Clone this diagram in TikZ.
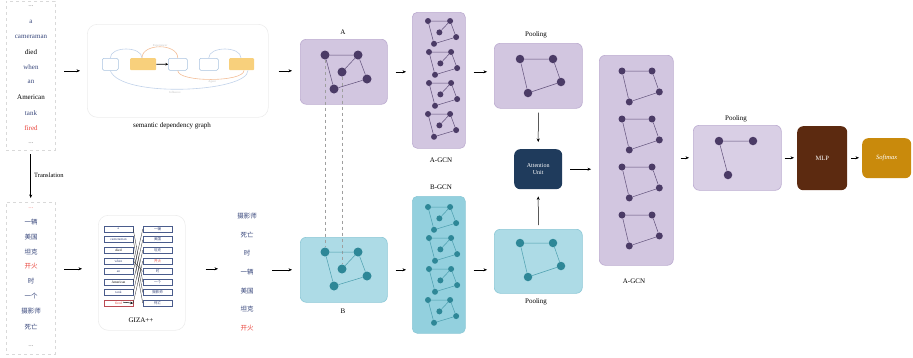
\documentclass[tikz,border=0pt]{standalone}
\usepackage{fontspec}
\setmainfont{Liberation Serif}
\newfontfamily\cjk{Noto Sans CJK SC}
\usetikzlibrary{arrows.meta,calc}
\pgfdeclarelayer{bg}\pgfdeclarelayer{mid}
\pgfsetlayers{bg,mid,main}
\definecolor{pfill}{HTML}{D2C6E0}
\definecolor{pdraw}{HTML}{BCACD0}
\definecolor{pnode}{HTML}{4B3B66}
\definecolor{pedge}{HTML}{5E4E78}
\definecolor{tfill}{HTML}{ADDBE6}
\definecolor{tdraw}{HTML}{8CC8D6}
\definecolor{tfilldark}{HTML}{93D0DE}
\definecolor{tnode}{HTML}{2E8797}
\definecolor{tedge}{HTML}{4A9DAD}
\definecolor{attnavy}{HTML}{1F3B5C}
\definecolor{mlpbrown}{HTML}{5C2A10}
\definecolor{smgold}{HTML}{C98A0C}
\definecolor{wordblue}{HTML}{36457A}
\definecolor{wordred}{HTML}{E8433A}
\definecolor{arcblue}{HTML}{C2D3EA}
\definecolor{arcorange}{HTML}{F3BE98}
\definecolor{sboxorange}{HTML}{F8D07C}
\definecolor{sboxborder}{HTML}{A9C3E0}
\definecolor{gizaborder}{HTML}{4A5C8C}
\tikzset{
 arr/.style={-{Stealth[length=3.5pt,width=3pt]}, line width=0.5pt, black},
 colbox/.style={draw=gray!30, dashed, line width=0.4pt},
 softbox/.style={draw=gray!15, line width=0.6pt, rounded corners=10pt},
 pbox/.style={draw=pdraw, fill=pfill, rounded corners=6pt, line width=0.6pt},
 tbox/.style={draw=tdraw, fill=tfill, rounded corners=6pt, line width=0.6pt},
 lbl/.style={font=\fontsize{7}{8}\selectfont, inner sep=0pt},
 word/.style={font=\fontsize{7}{8}\selectfont, inner sep=0pt},
 zword/.style={font=\cjk\fontsize{6.5}{7}\selectfont, inner sep=0pt, text=wordblue},
 pdot/.style={circle, fill=pnode, inner sep=0pt, minimum size=#1},
 tdot/.style={circle, fill=tnode, inner sep=0pt, minimum size=#1},
 pline/.style={draw=pedge, line width=0.5pt},
 tline/.style={draw=tedge, line width=0.5pt},
 gl/.style={draw=gizaborder, line width=0.4pt, minimum width=29pt, minimum height=6pt, inner sep=0pt, font=\fontsize{3.5}{4}\selectfont, fill=white},
 gr/.style={gl, font=\cjk\fontsize{3.5}{4}\selectfont},
 alignln/.style={draw=black!80, line width=0.35pt},
 sbox/.style={draw=sboxborder, fill=white, rounded corners=1.5pt, line width=0.5pt, minimum height=12pt, inner sep=0pt},
 sobox/.style={fill=sboxorange, rounded corners=1pt, minimum height=12pt, inner sep=0pt},
 tinylbl/.style={font=\fontsize{3}{3}\selectfont, text=gray!50, inner sep=0pt},
}
\newcommand{\gfive}[6]{%
\begin{scope}[shift={(#2,#3)},scale=#4]
\node[#5] (#1a) at (0,0) {};
\node[#5] (#1b) at (33,0) {};
\node[#5] (#1c) at (17,17) {};
\node[#5] (#1d) at (42,24) {};
\node[#5] (#1e) at (9,34) {};
\draw[#6] (#1a) -- (#1b) -- (#1d) -- (#1e) -- (#1a) (#1c) -- (#1b);
\end{scope}}
\newcommand{\gfour}[6]{%
\begin{scope}[shift={(#2,#3)},scale=#4]
\node[#5] (#1a) at (0,0) {};
\node[#5] (#1b) at (33,0) {};
\node[#5] (#1d) at (41,23) {};
\node[#5] (#1e) at (8,34) {};
\draw[#6] (#1a) -- (#1b) -- (#1d) -- (#1e) -- (#1a);
\end{scope}}
\begin{document}
\begin{tikzpicture}[x=1pt,y=-1pt]
\useasboundingbox (0,0) rectangle (913,357);

% ---------- boxes on background layer ----------
\begin{pgfonlayer}{bg}
\node[colbox, minimum width=49pt, minimum height=149pt, anchor=north west] (topcol) at (6,1) {};
\node[colbox, minimum width=49pt, minimum height=152pt, anchor=north west] (botcol) at (6,202) {};
\node[softbox, minimum width=181pt, minimum height=93pt, anchor=north west] (sdg) at (87,24) {};
\node[softbox, minimum width=87pt, minimum height=115pt, anchor=north west] (giza) at (98,215) {};
\node[minimum width=30pt, minimum height=128pt, anchor=north west, inner sep=0pt] (zhl) at (232,208) {};
\node[pbox, minimum width=87pt, minimum height=65pt, anchor=north west] (Abox) at (300,39) {};
\node[tbox, minimum width=87pt, minimum height=65pt, anchor=north west] (Bbox) at (300,237) {};
\node[pbox, rounded corners=5pt, minimum width=53pt, minimum height=136pt, anchor=north west] (AG) at (412,12) {};
\node[tbox, fill=tfilldark, rounded corners=5pt, minimum width=53pt, minimum height=137pt, anchor=north west] (BG) at (412,196) {};
\node[pbox, minimum width=88pt, minimum height=65pt, anchor=north west] (P1) at (494,43) {};
\node[tbox, minimum width=88pt, minimum height=64pt, anchor=north west] (P2) at (494,229) {};
\node[pbox, minimum width=74pt, minimum height=210pt, anchor=north west] (RAG) at (599,55) {};
\node[pbox, fill=pfill!85!white, minimum width=88pt, minimum height=65pt, anchor=north west] (P3) at (693,125) {};
\end{pgfonlayer}

% ---------- left columns ----------
\node[word, text=gray] (t0) at (31,6) {...};
\node[word, text=wordblue] (t1) at (31,22) {a};
\node[word, text=wordblue] (t2) at (31,37) {cameraman};
\node[word, text=black] (t3) at (31,52) {died};
\node[word, text=wordblue] (t4) at (31,67) {when};
\node[word, text=wordblue] (t5) at (31,82) {an};
\node[word, text=black] (t6) at (31,97) {American};
\node[word, text=wordblue] (t7) at (31,113) {tank};
\node[word, text=wordred] (t8) at (31,128) {fired};
\node[word, text=gray] (t9) at (31,143) {...};

\node[word, text=wordred!60] (b0) at (31,208) {...};
\node[zword] (b1) at (31,222) {一辆};
\node[zword] (b2) at (31,237) {美国};
\node[zword] (b3) at (31,252) {坦克};
\node[zword, text=wordred] (b4) at (31,266) {开火};
\node[zword] (b5) at (31,281) {时};
\node[zword] (b6) at (31,296) {一个};
\node[zword] (b7) at (31,311) {摄影师};
\node[zword] (b8) at (31,327) {死亡};
\node[word, text=gray] (b9) at (31,346) {...};

\draw[arr, shorten <=4pt, shorten >=4pt] (topcol.south) -- (botcol.north);
\node[font=\fontsize{6.5}{7}\selectfont, anchor=west, inner sep=0pt] (transl) at (34,175) {Translation};

% ---------- semantic dependency graph ----------
\node[sbox, minimum width=16pt, anchor=north west] (s1) at (102,58) {};
\node[sobox, minimum width=26pt, anchor=north west] (s2) at (130,58) {};
\node[sbox, minimum width=19pt, anchor=north west] (s3) at (168,58) {};
\node[sbox, minimum width=19pt, anchor=north west] (s4) at (199,58) {};
\node[sobox, minimum width=25pt, anchor=north west] (s5) at (229,58) {};
\coordinate (s2t) at ($(s2.north west)+(12,0)$);
\coordinate (s5b) at ($(s5.south west)+(15,0)$);
\coordinate (s5c) at ($(s5.south west)+(19,0)$);
\draw[arcblue, line width=0.6pt] (s1.north) .. controls +(0,-12) and +(0,-12) .. (s2t);
\draw[arcorange, line width=0.6pt] (s2t) .. controls +(0,-15) and +(0,-15) .. (s3.north);
\node[tinylbl] (lexp) at (160,46) {Experiencer};
\draw[arcblue, line width=0.6pt] (s4.north) .. controls +(0,-12) and +(0,-12) .. ($(s5.north west)+(12,0)$);
\draw[arcorange, line width=0.6pt] (s3.south) .. controls +(0,12) and +(0,12) .. (s5b);
\node[tinylbl] (lagt) at (212,82) {Agent};
\draw[arcblue, line width=0.6pt] (s1.south) .. controls +(10,28) and +(0,22) .. (s5c);
\node[tinylbl] (linf) at (175,92) {Influence};
\draw[arr, line width=0.6pt, -{Stealth[length=2.5pt,width=2.5pt]}] (s2.east) -- (s3.west);
\node[lbl] (sdglbl) at (172,126) {semantic dependency graph};

% ---------- GIZA++ ----------
\node[gl, text=wordblue] (gl1) at (118.5,229) {a};
\node[gl, text=wordblue] (gl2) at (118.5,239.6) {cameraman};
\node[gl, text=black] (gl3) at (118.5,250.2) {died};
\node[gl, text=wordblue] (gl4) at (118.5,260.8) {when};
\node[gl, text=wordblue] (gl5) at (118.5,271.4) {an};
\node[gl, text=black] (gl6) at (118.5,282) {American};
\node[gl, text=wordblue] (gl7) at (118.5,292.6) {tank};
\node[gl, text=wordred, draw=wordred!70!gizaborder] (gl8) at (118.5,303.2) {fired};
\node[gr, text=wordblue] (gr1) at (157.5,229) {一辆};
\node[gr, text=wordblue] (gr2) at (157.5,239.6) {美国};
\node[gr, text=wordblue] (gr3) at (157.5,250.2) {坦克};
\node[gr, text=wordred] (gr4) at (157.5,260.8) {开火};
\node[gr, text=wordblue] (gr5) at (157.5,271.4) {时};
\node[gr, text=wordblue] (gr6) at (157.5,282) {一个};
\node[gr, text=wordblue] (gr7) at (157.5,292.6) {摄影师};
\node[gr, text=wordblue] (gr8) at (157.5,303.2) {死亡};
\draw[alignln] (gl1.east) -- (gr6.west);
\draw[alignln] (gl2.east) -- (gr7.west);
\draw[alignln] (gl3.east) -- (gr8.west);
\draw[alignln] (gl4.east) -- (gr5.west);
\draw[alignln] (gl5.east) -- (gr1.west);
\draw[alignln] (gl6.east) -- (gr2.west);
\draw[alignln] (gl7.east) -- (gr3.west);
\draw[alignln] (gl8.east) -- (gr4.west);
\coordinate (fa) at ($(gl8.east)+(-10,-1)$);
\draw[arr, -{Stealth[length=3pt,width=2.5pt]}] (fa) -- (gl8.east);
\node[lbl] (gizalbl) at (141,320) {GIZA++};

% ---------- reordered Chinese list ----------
\node[zword] (z1) at (247,216) {摄影师};
\node[zword] (z2) at (247,235) {死亡};
\node[zword] (z3) at (247,253) {时};
\node[zword] (z4) at (247,272) {一辆};
\node[zword] (z5) at (247,291) {美国};
\node[zword] (z6) at (247,309) {坦克};
\node[zword, text=wordred] (z7) at (247,328) {开火};

% ---------- graphs ----------
\node[lbl] (Albl) at (343,32) {A};
\node[lbl] (Blbl) at (343,311) {B};
\gfive{A}{325}{55}{1}{pdot=9pt}{pline}
\gfive{B}{325}{252}{1}{tdot=9pt}{tline}

\gfive{AGu1}{428}{21}{0.67}{pdot=6pt}{pline}
\gfive{AGu2}{429}{52}{0.67}{pdot=6pt}{pline}
\gfive{AGu3}{429}{83}{0.67}{pdot=6pt}{pline}
\gfive{AGu4}{428}{114}{0.67}{pdot=6pt}{pline}
\node[lbl] (AGlbl) at (441,160) {A-GCN};
\node[lbl] (BGlbl) at (441,187) {B-GCN};
\gfive{BGu1}{428}{207}{0.67}{tdot=6pt}{tline}
\gfive{BGu2}{429}{238}{0.67}{tdot=6pt}{tline}
\gfive{BGu3}{429}{269}{0.67}{tdot=6pt}{tline}
\gfive{BGu4}{428}{300}{0.67}{tdot=6pt}{tline}

\node[lbl] (P1lbl) at (536,35) {Pooling};
\node[lbl] (P2lbl) at (536,302) {Pooling};
\gfour{P1g}{520}{59}{1}{pdot=8.5pt}{pline}
\gfour{P2g}{520}{243}{1}{tdot=8.5pt}{tline}

\node[fill=attnavy, rounded corners=6pt, minimum width=48pt, minimum height=40pt, anchor=north west, inner sep=0pt] (att) at (514,149) {};
\node[font=\fontsize{6}{7.5}\selectfont, text=white, align=center, inner sep=0pt] (atttxt) at (att.center) {Attention\\Unit};

\gfour{Ru1}{622}{71}{0.91}{pdot=7pt}{pline}
\gfour{Ru2}{622}{119}{0.91}{pdot=7pt}{pline}
\gfour{Ru3}{622}{167}{0.91}{pdot=7pt}{pline}
\gfour{Ru4}{622}{215}{0.91}{pdot=7pt}{pline}
\node[lbl] (RAGlbl) at (634,281) {A-GCN};

\node[lbl] (P3lbl) at (736,119) {Pooling};
\node[pdot=8.5pt] (P3a) at (719,141) {};
\node[pdot=8.5pt] (P3b) at (753,141) {};
\node[pdot=8.5pt] (P3c) at (728,175) {};
\draw[pline] (P3b) -- (P3a) -- (P3c);

\node[fill=mlpbrown, rounded corners=6pt, minimum width=50pt, minimum height=64pt, anchor=north west, inner sep=0pt] (mlp) at (797,126) {};
\node[font=\fontsize{6.5}{7}\selectfont, text=white, inner sep=0pt] (mlptxt) at (mlp.center) {MLP};
\node[fill=smgold, rounded corners=6pt, minimum width=49pt, minimum height=40pt, anchor=north west, inner sep=0pt] (sm) at (862,138) {};
\node[font=\fontsize{6.5}{7}\selectfont\itshape, text=white, inner sep=0pt] (smtxt) at (sm.center) {Softmax};

% ---------- dashed correspondences ----------
\begin{pgfonlayer}{mid}
\draw[dashed, gray!75, line width=0.5pt] (Aa) -- (Ba);
\draw[dashed, gray!75, line width=0.5pt] (Ac) -- (Bc);
\end{pgfonlayer}

% ---------- arrows ----------
\draw[arr, shorten <=9pt, shorten >=7pt] (sdg.west -| topcol.east) -- (sdg.west);
\coordinate (gizain) at ($(giza.west)+(0,-4)$);
\draw[arr, shorten <=9pt, shorten >=16pt] (gizain -| botcol.east) -- (gizain);
\draw[arr, shorten <=20pt, shorten >=14pt] (gizain -| giza.east) -- (gizain -| zhl.west);
\draw[arr, shorten <=10pt, shorten >=8pt] (sdg.east) -- (sdg.east -| Abox.west);
\draw[arr, shorten <=10pt, shorten >=8pt] (Bbox.west -| zhl.east) -- (Bbox.west);
\draw[arr, shorten <=8pt, shorten >=6pt] (Abox.east) -- (Abox.east -| AG.west);
\draw[arr, shorten <=8pt, shorten >=6pt] (Bbox.east) -- (Bbox.east -| BG.west);
\draw[arr, shorten <=8pt, shorten >=7pt] (Abox.east -| AG.east) -- (Abox.east -| P1.west);
\draw[arr, shorten <=8pt, shorten >=7pt] (Bbox.east -| BG.east) -- (Bbox.east -| P2.west);
\draw[arr, shorten <=4pt, shorten >=7pt] (P1.south) -- (att.north);
\draw[arr, shorten <=4pt, shorten >=7pt] (P2.north) -- (att.south);
\draw[arr, shorten <=8pt, shorten >=8pt] (att.east) -- (att.east -| RAG.west);
\draw[arr, shorten <=7pt, shorten >=4pt] (RAG.east |- P3.west) -- (P3.west);
\draw[arr, shorten <=3pt, shorten >=3pt] (P3.east) -- (P3.east -| mlp.west);
\draw[arr, shorten <=4pt, shorten >=3pt] (mlp.east |- P3.east) -- (P3.east -| sm.west);
\end{tikzpicture}
\end{document}
